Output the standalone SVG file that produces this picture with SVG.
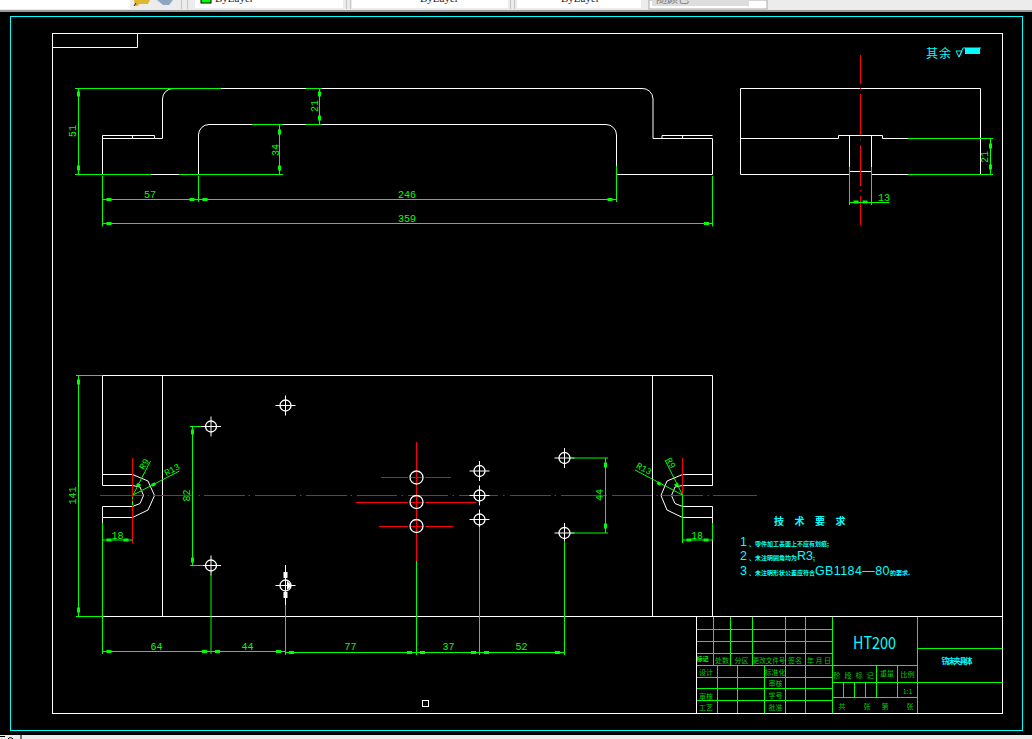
<svg xmlns="http://www.w3.org/2000/svg" width="1032" height="739" viewBox="0 0 1032 739">
<style>
.w{fill:none;stroke:#fff;stroke-width:1}
.g{fill:none;stroke:#0f0;stroke-width:1}
.r{fill:none;stroke:#f00;stroke-width:1}
.c{fill:none;stroke:#0ff;stroke-width:1}
.a{fill:#0f0;stroke:none}
.dim{fill:#0f0;font-family:"Liberation Mono",monospace;font-size:10px;text-anchor:middle;dominant-baseline:central}
.tb{fill:#0c0;font-family:"Noto Sans CJK SC","Liberation Sans",sans-serif;font-size:7px;text-anchor:middle;dominant-baseline:central}
.cy{fill:#0ff;font-family:"Noto Sans CJK SC","Liberation Sans",sans-serif}
.num{font-family:"Liberation Sans",sans-serif;font-size:12.5px}
.cn{font-size:6px;font-weight:bold}
.ui{fill:#222;font-family:"Liberation Serif",serif;font-size:11px}
.sep{fill:#c4c4c4}
</style>
<defs>
<g id="hole"><circle r="5.500" fill="none" stroke="#fff" stroke-width="1.300"/><path class="w" d="M-10 0H10M0-10V10"/></g>
<g id="hole2"><circle r="6.500" fill="none" stroke="#fff" stroke-width="1.300"/></g>
<rect id="ah" x="-2.500" y="-1.500" width="5" height="3" class="a"/>
<rect id="av" x="-1.500" y="-2.500" width="3" height="5" class="a"/>
</defs>
<rect width="1032" height="739" fill="#000"/>
<g id="toolbar">
<rect width="1032" height="10" fill="#ececec"/>
<rect y="10" width="1032" height="2" fill="#9a9a9a"/>
<rect x="0" y="0" width="130" height="9" fill="#fff"/>
<path d="M134 0h16l-2 4h-9l-1 2h-3z" fill="#e0b830"/>
<path d="M136 3l-2 3" stroke="#123" fill="none"/>
<path d="M157 0h16l-4 5h-6z" fill="#8fa6c0"/>
<rect class="sep" x="181" width="1" height="9"/><rect class="sep" x="187" width="1" height="9"/>
<rect class="sep" x="346" width="1" height="9"/><rect class="sep" x="350" width="1" height="9"/>
<rect class="sep" x="510" width="1" height="9"/><rect class="sep" x="514" width="1" height="9"/>
<rect x="195" y="0" width="148" height="8" fill="#fff"/>
<rect x="352" y="0" width="156" height="8" fill="#fff"/>
<rect x="517" y="0" width="124" height="8" fill="#fff"/>
<rect x="649" y="0" width="118" height="9" fill="#fff" stroke="#aaa"/>
<rect x="652" y="0" width="97" height="6" fill="#ddd"/>
<rect x="201" y="-2" width="10" height="5" fill="#0f0" stroke="#000"/>
<text class="ui" x="215" y="2">ByLayer</text>
<text class="ui" x="420" y="2">ByLayer</text>
<text class="ui" x="561" y="2">ByLayer</text>
<text x="656" y="3" fill="#777" font-size="11" font-family="Noto Sans CJK SC,sans-serif">随颜色</text>
</g>
<rect x="0" y="735" width="1032" height="4" fill="#ececec"/>
<path d="M0 736.500H5M8 739a3 3 0 0 1 5 0M21 735v4" fill="none" stroke="#000"/>

<g id="frames">
<rect class="c" x="10.500" y="16.500" width="1012" height="714"/>
<rect class="w" x="52.500" y="33.500" width="950" height="680"/>
<path class="w" d="M52.500 47.500H137.500V33.500"/>
</g>

<g id="front-view">
<path class="w" d="M102.500 174.500V135.500H154.500V138.500H162.500V99A10.500 10.500 0 0 1 173 88.500H642A10.500 10.500 0 0 1 653 99V138.500H712.500V174.500H616.500V135A10.500 10.500 0 0 0 606 124.500H209A10.500 10.500 0 0 0 198.500 135V174.500H102.500"/>
<path class="w" d="M102.500 138.500H154.500M132.500 135.500V138.500M662 138.500V135.500H712.500M682.500 135.500V138.500"/>
</g>

<g id="side-view">
<path class="w" d="M908 88.500H740.500V174.500H849.500M871.500 174.500H908M740.500 138.500H838.500V135.500H882.500V138.500H908M908 88.500H980.500V174.500M849.500 135.500V167M871.500 135.500V167M849.500 171.500H871.500"/>
<path class="r" d="M860.500 55V84M860.500 88V89M860.500 94V135M860.500 139V140M860.500 145V186M860.500 190V191M860.500 196V225"/>
</g>

<g id="plan-view">
<path class="w" d="M102.500 485.500V375.500H712.500V485.500H682.500M102.500 485.500H132.500M102.500 474.500H132.500L148 481L154.500 495.500L148 510L132.500 517.500H102.500V506.500H132.500L140 503.500L143.500 495.500L140 487L132.500 485.500M102.500 517.500V523M712.500 485.500V474.500H682.500L667 481L661 495.500L667 510L682.500 517.500H712.500V506.500H682.500L675 503.500L671.500 495.500L675 487L682.500 485.500M712.500 517.500V616.500M162.500 375.500V616.500M652.500 375.500V616.500M102.500 616.500H1002.500"/>
<path class="r" d="M100 495.500H143M147.500 495.500H149M153 495.500H192M198.500 495.500H200M204 495.500H245M248.500 495.500H250M255 495.500H296M300 495.500H301.500M306 495.500H347M350.500 495.500H352M357 495.500H397M401.500 495.500H403M408 495.500H448M452.500 495.500H454M459 495.500H498M503 495.500H504.500M510 495.500H551M554.500 495.500H556M561 495.500H607M612 495.500H652M656.500 495.500H658M662 495.500H703M707.500 495.500H709M713 495.500H757"/>
<path class="r" d="M132.500 458V543M682.500 458V495.500M416.500 442V561M381 477.500H408M411 477.500H422M425 477.500H451M356 502.500H408M411 502.500H422M425 502.500H476M379 526.500H408M411 526.500H422M425 526.500H453"/>
<g id="holes">
<use href="#hole" x="211" y="426.500"/>
<use href="#hole" x="285.500" y="405.500"/>
<use href="#hole" x="211" y="565.500"/>
<use href="#hole" x="285.500" y="585.500"/>
<use href="#hole" x="479.500" y="471"/>
<use href="#hole" x="479.500" y="495.500"/>
<use href="#hole" x="479.500" y="519.500"/>
<use href="#hole" x="564.500" y="458"/>
<use href="#hole" x="564.500" y="533"/>
<use href="#hole2" x="416.500" y="477.500"/>
<use href="#hole2" x="416.500" y="502"/>
<use href="#hole2" x="416.500" y="526"/>
</g>
<path class="w" d="M285.500 565V605.500"/>
<path d="M283.500 572h4v6h-4zM283.500 592h4v6h-4zM287 581l5 4.500-5 4.500z" fill="#fff"/>
</g>

<g id="connectors">
<path class="g" d="M75 88.500H221M306 88.500H322M75 174.500H151M179 174.500H283M252 124.500H283M306 124.500H322M78.500 88.500V174.500M279.500 124.500V174.500M319.500 88.500V124.500"/>
<path class="g" d="M102.500 176V226.500M198.500 176V202M102.500 199.500H616.500M616.500 166V202M102.500 223.500H713M712.500 176V226.500"/>
<path class="g" d="M908 138.500H993M908 174.500H993M990.500 138.500V174.500M849.500 167V205M871.500 167V205M849.500 202.500H889"/>
<path class="g" d="M76 375.500H102M76 616.500H102M78.500 375.500V616.500M102.500 523V654M102.500 540H132.500M682.500 495.500V543M682.500 540H712.500M712.500 523V540M132.500 497V499M132.500 501V505"/>
<path class="g" d="M190 426.500H201M190 565.500H203M192.500 426.500V565.500M571 458H608M571 533H608M605.500 458V533"/>
<path class="g" d="M211 574V654M285.500 605.500V655M416.500 561V655M479.500 527V655M564.500 541V655M102.500 651.500H285.500M285.500 652.500H564.500"/>
<path class="g" d="M133 495L150.500 461M133 495L179.500 471M682.500 495L665 460M682.500 495L635 470"/>
<g>
<use href="#av" x="78.500" y="94"/><use href="#av" x="78.500" y="168"/>
<use href="#av" x="279.500" y="132"/><use href="#av" x="279.500" y="168"/>
<use href="#av" x="319.500" y="94"/><use href="#av" x="319.500" y="118"/>
<use href="#ah" x="109" y="199.500"/><use href="#ah" x="192" y="199.500"/><use href="#ah" x="205" y="199.500"/><use href="#ah" x="610" y="199.500"/>
<use href="#ah" x="109" y="223.500"/><use href="#ah" x="706.500" y="223.500"/>
<use href="#av" x="990.500" y="146"/><use href="#av" x="990.500" y="167"/>
<use href="#ah" x="856" y="202"/><use href="#ah" x="865" y="202"/>
<use href="#av" x="78.500" y="382"/><use href="#av" x="78.500" y="610"/>
<use href="#ah" x="109" y="540"/><use href="#ah" x="126" y="540"/>
<use href="#ah" x="689" y="540"/><use href="#ah" x="706" y="540"/>
<use href="#av" x="192.500" y="432"/><use href="#av" x="192.500" y="560"/>
<use href="#av" x="605.500" y="465"/><use href="#av" x="605.500" y="526"/>
<use href="#ah" x="109" y="651.500"/><use href="#ah" x="204.500" y="651.500"/><use href="#ah" x="217.500" y="651.500"/><use href="#ah" x="278.500" y="651.500"/>
<use href="#ah" x="291.500" y="652.500"/><use href="#ah" x="409.500" y="652.500"/><use href="#ah" x="422.500" y="652.500"/><use href="#ah" x="473.500" y="652.500"/><use href="#ah" x="486.500" y="652.500"/><use href="#ah" x="557.500" y="652.500"/>
<rect x="137" y="483" width="3" height="4" class="a" transform="rotate(-60 138.500 485)"/>
<rect x="151.500" y="483" width="4" height="3" class="a" transform="rotate(-28 153.500 484.500)"/>
<rect x="675" y="483" width="3" height="4" class="a" transform="rotate(60 676.500 485)"/>
<rect x="657" y="482" width="4" height="3" class="a" transform="rotate(28 659 483.500)"/>
</g>
</g>

<g id="dimension-labels">
<text class="dim" transform="translate(73 131) rotate(-90)">51</text>
<text class="dim" transform="translate(315 106) rotate(-90)">21</text>
<text class="dim" transform="translate(276 150) rotate(-90)">34</text>
<text class="dim" x="150" y="195">57</text>
<text class="dim" x="407" y="195">246</text>
<text class="dim" x="407" y="219">359</text>
<text class="dim" x="884" y="198">13</text>
<text class="dim" transform="translate(985 157) rotate(-90)">21</text>
<text class="dim" transform="translate(73.500 495.500) rotate(-90)">141</text>
<text class="dim" x="117.500" y="536">18</text>
<text class="dim" x="697" y="536">18</text>
<text class="dim" transform="translate(187 495.500) rotate(-90)">82</text>
<text class="dim" transform="translate(600.500 495) rotate(-90)">44</text>
<text class="dim" x="156.500" y="647.500">64</text>
<text class="dim" x="247.500" y="647.500">44</text>
<text class="dim" x="350.500" y="647.500">77</text>
<text class="dim" x="448.500" y="647.500">37</text>
<text class="dim" x="521.500" y="647.500">52</text>
<text class="dim" style="font-size:9px" transform="translate(145 464.500) rotate(-60)">R9</text>
<text class="dim" style="font-size:9px" transform="translate(172.500 470.500) rotate(-28)">R13</text>
<text class="dim" style="font-size:9px" transform="translate(670 463.500) rotate(60)">R9</text>
<text class="dim" style="font-size:9px" transform="translate(643.500 469.500) rotate(28)">R13</text>
</g>

<g id="notes">
<text class="cy" x="926" y="58" font-size="12" letter-spacing="1">其余</text>
<path class="c" d="M956 51H962L959 57ZM959 57L963 48H981"/>
<rect x="965" y="48" width="15" height="6" fill="#0ff"/>
<text class="cy" x="774" y="525" font-size="10" font-weight="bold" letter-spacing="10.500">技术要求</text>
<text class="cy" x="740" y="546"><tspan class="num">1</tspan><tspan class="cn" dx="2">、零件加工表面上不应有划痕;</tspan></text>
<text class="cy" x="740" y="560"><tspan class="num">2</tspan><tspan class="cn" dx="2">、未注明圆角均为</tspan><tspan class="num">R3</tspan><tspan class="cn">;</tspan></text>
<text class="cy" x="740" y="574.500"><tspan class="num">3</tspan><tspan class="cn" dx="2">、未注明形状公差应符合</tspan><tspan class="num" letter-spacing=".4">GB1184—80</tspan><tspan class="cn">的要求.</tspan></text>
</g>

<g id="title-block">
<path class="g" d="M697 629.500H832.500M697 641.500H832.500M697 653.500H832.500M697 665.500H917.500M697 677.500H832.500M697 688.500H832.500M697 700.500H832.500M832.500 682.500H1002.500M832.500 697.500H917.500M917.500 648.500H1002.500"/>
<path class="g" d="M713.500 617V665.500M730.500 617V665.500M752.500 617V665.500M785.500 617V713M805.500 617V713M717.500 665.500V713M737.500 665.500V713M764.500 665.500V713M832.500 617V713M917.500 617V713M876.500 665.500V697.500M897.500 665.500V697.500M843.500 682.500V697.500M854.500 682.500V697.500M865.500 682.500V697.500"/>
<path class="w" d="M696.500 616.500V713.500"/>
<text class="cy" x="853" y="649" font-size="17" font-family="Liberation Sans,sans-serif" textLength="43" lengthAdjust="spacingAndGlyphs">HT200</text>
<text class="cy" x="941.500" y="664" font-size="7.500" font-weight="bold" textLength="31">铣床夹具体</text>
<text class="tb" x="702.500" y="658.500" font-weight="bold" style="font-size:6px;fill:#0f0">标记</text>
<text class="tb" x="722" y="660">处数</text>
<text class="tb" x="741.500" y="660">分区</text>
<text class="tb" x="769" y="660" style="font-size:6.500px">更改文件号</text>
<text class="tb" x="795" y="660">签名</text>
<text class="tb" x="819" y="660">年 月 日</text>
<text class="tb" x="706" y="671.500">设计</text>
<text class="tb" x="775" y="671.500">标准化</text>
<text class="tb" x="775.500" y="682.500">审核</text>
<text class="tb" x="775.500" y="694.500">学号</text>
<text class="tb" x="775.500" y="706.500">批准</text>
<text class="tb" x="706" y="695.500">审核</text>
<text class="tb" x="706" y="706.500">工艺</text>
<text class="tb" x="855.500" y="674.500" letter-spacing="4">阶段标记</text>
<text class="tb" x="887" y="673">重量</text>
<text class="tb" x="907.500" y="673.500">比例</text>
<text class="tb" x="907.500" y="690.500">1:1</text>
<text class="tb" x="842" y="705.500">共</text>
<text class="tb" x="867" y="705.500">张</text>
<text class="tb" x="885" y="705.500">第</text>
<text class="tb" x="910" y="705.500">张</text>
</g>
<rect x="422.500" y="700.500" width="6" height="6" fill="#000" stroke="#fff"/>
</svg>
